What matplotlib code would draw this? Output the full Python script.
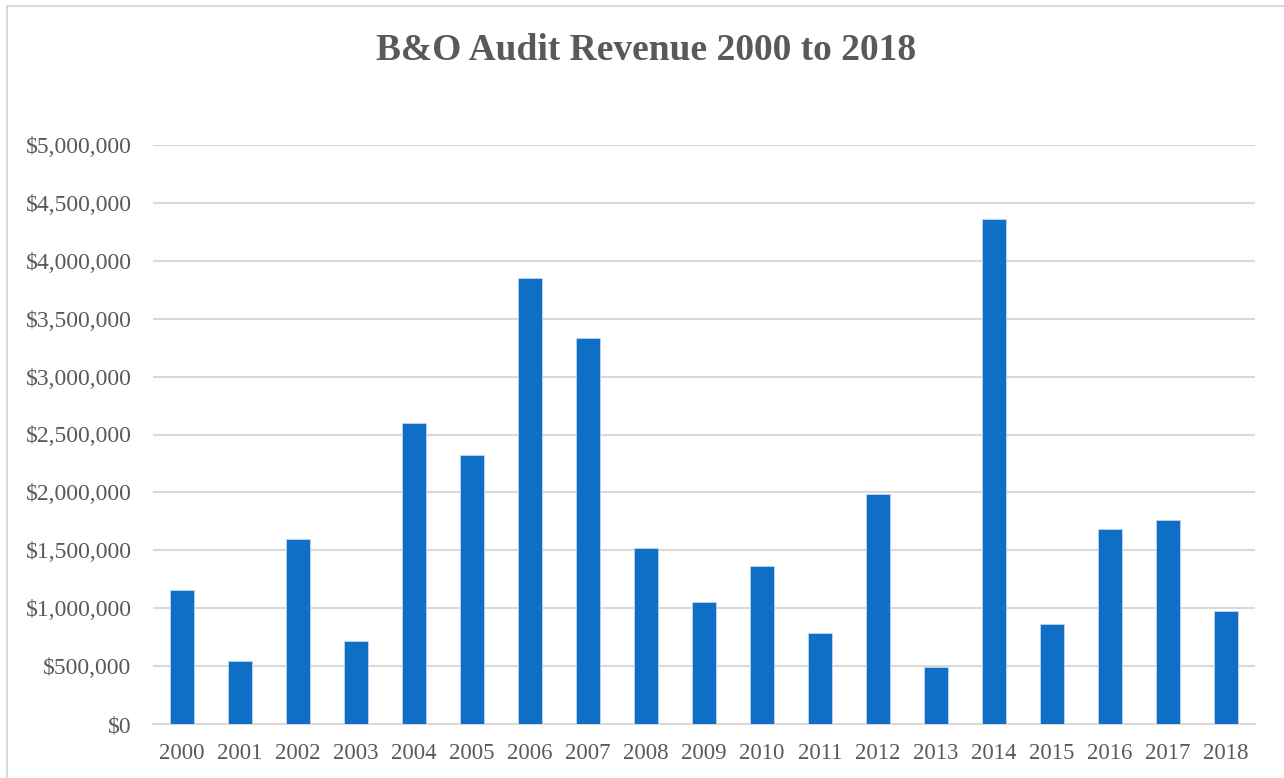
import matplotlib
matplotlib.use("Agg")
import matplotlib.pyplot as plt
from matplotlib.ticker import FuncFormatter, MultipleLocator
from matplotlib.patches import Rectangle

years = ["2000", "2001", "2002", "2003", "2004", "2005", "2006", "2007", "2008", "2009",
         "2010", "2011", "2012", "2013", "2014", "2015", "2016", "2017", "2018"]
revenue = [1157000, 544000, 1598000, 717000, 2599000, 2323000, 3851000, 3333000, 1520000,
           1054000, 1364000, 786000, 1986000, 492000, 4361000, 864000, 1684000, 1762000, 976000]

title = "B&O Audit Revenue 2000 to 2018"
bar_color = "#0F6FC6"
text_color = "#595959"
grid_color = "#D9D9D9"

W, H, DPI = 1284, 778, 100
fig = plt.figure(figsize=(W / DPI, H / DPI), dpi=DPI)
fig.patch.set_facecolor("white")

# chart frame (left and top edges visible)
fig.patches.append(Rectangle((6.5 / W, -0.1), 1.2, 1 - 6.5 / H + 0.1,
                             transform=fig.transFigure, fill=False,
                             edgecolor=grid_color, linewidth=1.5))

ax = fig.add_axes([153 / W, 1 - 724 / H, (1255 - 153) / W, (724 - 145) / H])

x = list(range(len(years)))
ax.bar(x, revenue, width=0.4, color=bar_color, edgecolor="#BFD6EE", linewidth=0.6, zorder=3)

ax.set_xlim(-0.5, len(years) - 0.5)
ax.set_ylim(0, 5000000)
ax.yaxis.set_major_locator(MultipleLocator(500000))
ax.yaxis.set_major_formatter(FuncFormatter(lambda v, p: f"${v:,.0f}"))
ax.set_xticks(x)
ax.set_xticklabels(years)

serif = ["Liberation Serif", "DejaVu Serif"]
for lab in ax.get_xticklabels():
    lab.set_fontfamily(serif)
    lab.set_fontsize(16.5)
    lab.set_color(text_color)
for lab in ax.get_yticklabels():
    lab.set_fontfamily(serif)
    lab.set_fontsize(17)
    lab.set_color(text_color)

ax.tick_params(axis="both", length=0)
ax.tick_params(axis="y", pad=15.5)
ax.tick_params(axis="x", pad=14)
ax.grid(axis="y", color=grid_color, linewidth=1.5, zorder=0)
for side in ["top", "right", "left"]:
    ax.spines[side].set_visible(False)
ax.spines["bottom"].set_color(grid_color)
ax.spines["bottom"].set_linewidth(1.5)
ax.set_facecolor("none")

fig.text(646 / W, 1 - 51 / H, title, ha="center", va="center",
         fontfamily=serif, fontsize=27, fontweight="bold", color=text_color)

fig.savefig("out.png", dpi=DPI, facecolor="white")
